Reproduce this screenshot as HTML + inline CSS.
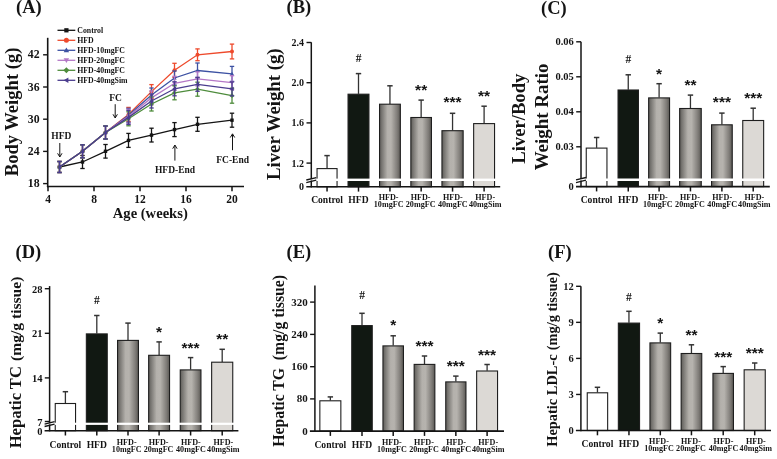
<!DOCTYPE html>
<html><head><meta charset="utf-8"><style>
html,body{margin:0;padding:0;background:#fff;}
svg{display:block;filter:blur(0.35px);}
</style></head><body>
<svg width="777" height="459" viewBox="0 0 777 459">
<defs>
<linearGradient id="g1" x1="0" y1="0" x2="1" y2="0">
<stop offset="0" stop-color="#5f5d59"/>
<stop offset="0.12" stop-color="#7a7874"/>
<stop offset="0.38" stop-color="#b4b1ac"/>
<stop offset="0.55" stop-color="#b6b3ae"/>
<stop offset="0.85" stop-color="#7f7c78"/>
<stop offset="1" stop-color="#5a5854"/>
</linearGradient>
</defs>
<rect width="777" height="459" fill="#ffffff"/>
<text x="16.00" y="12.60" font-family="'Liberation Serif', serif" font-size="18.5" font-weight="bold" text-anchor="start" fill="#141414" >(A)</text>
<text x="286.50" y="13.10" font-family="'Liberation Serif', serif" font-size="18.5" font-weight="bold" text-anchor="start" fill="#141414" >(B)</text>
<text x="541.00" y="13.90" font-family="'Liberation Serif', serif" font-size="18.5" font-weight="bold" text-anchor="start" fill="#141414" >(C)</text>
<text x="15.50" y="258.30" font-family="'Liberation Serif', serif" font-size="18.5" font-weight="bold" text-anchor="start" fill="#141414" >(D)</text>
<text x="286.50" y="258.00" font-family="'Liberation Serif', serif" font-size="18.5" font-weight="bold" text-anchor="start" fill="#141414" >(E)</text>
<text x="548.00" y="258.00" font-family="'Liberation Serif', serif" font-size="18.5" font-weight="bold" text-anchor="start" fill="#141414" >(F)</text>
<line x1="47.70" y1="37.80" x2="47.70" y2="187.30" stroke="#141414" stroke-width="1.6" />
<line x1="46.90" y1="186.50" x2="244.00" y2="186.50" stroke="#141414" stroke-width="1.6" />
<line x1="43.10" y1="183.60" x2="47.70" y2="183.60" stroke="#141414" stroke-width="1.4" />
<text x="39.60" y="187.20" font-family="'Liberation Serif', serif" font-size="11.8" font-weight="bold" text-anchor="end" fill="#141414" >18</text>
<line x1="43.10" y1="151.40" x2="47.70" y2="151.40" stroke="#141414" stroke-width="1.4" />
<text x="39.60" y="155.00" font-family="'Liberation Serif', serif" font-size="11.8" font-weight="bold" text-anchor="end" fill="#141414" >24</text>
<line x1="43.10" y1="119.20" x2="47.70" y2="119.20" stroke="#141414" stroke-width="1.4" />
<text x="39.60" y="122.80" font-family="'Liberation Serif', serif" font-size="11.8" font-weight="bold" text-anchor="end" fill="#141414" >30</text>
<line x1="43.10" y1="87.00" x2="47.70" y2="87.00" stroke="#141414" stroke-width="1.4" />
<text x="39.60" y="90.60" font-family="'Liberation Serif', serif" font-size="11.8" font-weight="bold" text-anchor="end" fill="#141414" >36</text>
<line x1="43.10" y1="54.80" x2="47.70" y2="54.80" stroke="#141414" stroke-width="1.4" />
<text x="39.60" y="58.40" font-family="'Liberation Serif', serif" font-size="11.8" font-weight="bold" text-anchor="end" fill="#141414" >42</text>
<line x1="48.00" y1="186.50" x2="48.00" y2="191.30" stroke="#141414" stroke-width="1.5" />
<text x="48.00" y="203.40" font-family="'Liberation Serif', serif" font-size="11.5" font-weight="bold" text-anchor="middle" fill="#141414" >4</text>
<line x1="94.00" y1="186.50" x2="94.00" y2="191.30" stroke="#141414" stroke-width="1.5" />
<text x="94.00" y="203.40" font-family="'Liberation Serif', serif" font-size="11.5" font-weight="bold" text-anchor="middle" fill="#141414" >8</text>
<line x1="140.00" y1="186.50" x2="140.00" y2="191.30" stroke="#141414" stroke-width="1.5" />
<text x="140.00" y="203.40" font-family="'Liberation Serif', serif" font-size="11.5" font-weight="bold" text-anchor="middle" fill="#141414" >12</text>
<line x1="186.00" y1="186.50" x2="186.00" y2="191.30" stroke="#141414" stroke-width="1.5" />
<text x="186.00" y="203.40" font-family="'Liberation Serif', serif" font-size="11.5" font-weight="bold" text-anchor="middle" fill="#141414" >16</text>
<line x1="232.00" y1="186.50" x2="232.00" y2="191.30" stroke="#141414" stroke-width="1.5" />
<text x="232.00" y="203.40" font-family="'Liberation Serif', serif" font-size="11.5" font-weight="bold" text-anchor="middle" fill="#141414" >20</text>
<text x="150.30" y="217.60" font-family="'Liberation Serif', serif" font-size="14.6" font-weight="bold" text-anchor="middle" fill="#141414" >Age (weeks)</text>
<text transform="translate(17.80,111.95) rotate(-90)" x="0" y="0" font-family="'Liberation Serif', serif" font-size="18" font-weight="bold" text-anchor="middle" fill="#141414" textLength="128.6" lengthAdjust="spacingAndGlyphs">Body Weight (g)</text>
<polyline points="59.50,167.00 82.50,162.00 105.50,151.30 128.50,140.40 151.50,135.10 174.50,129.60 197.50,124.30 232.00,120.20" fill="none" stroke="#141414" stroke-width="1.3"/>
<line x1="59.50" y1="161.50" x2="59.50" y2="172.50" stroke="#141414" stroke-width="1.3" />
<line x1="57.30" y1="161.50" x2="61.70" y2="161.50" stroke="#141414" stroke-width="1.3" />
<line x1="57.30" y1="172.50" x2="61.70" y2="172.50" stroke="#141414" stroke-width="1.3" />
<rect x="57.80" y="165.30" width="3.40" height="3.40" fill="#141414"/>
<line x1="82.50" y1="155.50" x2="82.50" y2="168.50" stroke="#141414" stroke-width="1.3" />
<line x1="80.30" y1="155.50" x2="84.70" y2="155.50" stroke="#141414" stroke-width="1.3" />
<line x1="80.30" y1="168.50" x2="84.70" y2="168.50" stroke="#141414" stroke-width="1.3" />
<rect x="80.80" y="160.30" width="3.40" height="3.40" fill="#141414"/>
<line x1="105.50" y1="144.50" x2="105.50" y2="158.10" stroke="#141414" stroke-width="1.3" />
<line x1="103.30" y1="144.50" x2="107.70" y2="144.50" stroke="#141414" stroke-width="1.3" />
<line x1="103.30" y1="158.10" x2="107.70" y2="158.10" stroke="#141414" stroke-width="1.3" />
<rect x="103.80" y="149.60" width="3.40" height="3.40" fill="#141414"/>
<line x1="128.50" y1="133.40" x2="128.50" y2="147.40" stroke="#141414" stroke-width="1.3" />
<line x1="126.30" y1="133.40" x2="130.70" y2="133.40" stroke="#141414" stroke-width="1.3" />
<line x1="126.30" y1="147.40" x2="130.70" y2="147.40" stroke="#141414" stroke-width="1.3" />
<rect x="126.80" y="138.70" width="3.40" height="3.40" fill="#141414"/>
<line x1="151.50" y1="128.20" x2="151.50" y2="142.00" stroke="#141414" stroke-width="1.3" />
<line x1="149.30" y1="128.20" x2="153.70" y2="128.20" stroke="#141414" stroke-width="1.3" />
<line x1="149.30" y1="142.00" x2="153.70" y2="142.00" stroke="#141414" stroke-width="1.3" />
<rect x="149.80" y="133.40" width="3.40" height="3.40" fill="#141414"/>
<line x1="174.50" y1="122.60" x2="174.50" y2="136.60" stroke="#141414" stroke-width="1.3" />
<line x1="172.30" y1="122.60" x2="176.70" y2="122.60" stroke="#141414" stroke-width="1.3" />
<line x1="172.30" y1="136.60" x2="176.70" y2="136.60" stroke="#141414" stroke-width="1.3" />
<rect x="172.80" y="127.90" width="3.40" height="3.40" fill="#141414"/>
<line x1="197.50" y1="117.30" x2="197.50" y2="131.30" stroke="#141414" stroke-width="1.3" />
<line x1="195.30" y1="117.30" x2="199.70" y2="117.30" stroke="#141414" stroke-width="1.3" />
<line x1="195.30" y1="131.30" x2="199.70" y2="131.30" stroke="#141414" stroke-width="1.3" />
<rect x="195.80" y="122.60" width="3.40" height="3.40" fill="#141414"/>
<line x1="232.00" y1="113.20" x2="232.00" y2="127.20" stroke="#141414" stroke-width="1.3" />
<line x1="229.80" y1="113.20" x2="234.20" y2="113.20" stroke="#141414" stroke-width="1.3" />
<line x1="229.80" y1="127.20" x2="234.20" y2="127.20" stroke="#141414" stroke-width="1.3" />
<rect x="230.30" y="118.50" width="3.40" height="3.40" fill="#141414"/>
<polyline points="59.50,167.00 82.50,151.30 105.50,132.50 128.50,114.40 151.50,91.60 174.50,70.30 197.50,54.80 232.00,51.50" fill="none" stroke="#ee4a2c" stroke-width="1.3"/>
<line x1="59.50" y1="161.50" x2="59.50" y2="172.50" stroke="#ee4a2c" stroke-width="1.3" />
<line x1="57.30" y1="161.50" x2="61.70" y2="161.50" stroke="#ee4a2c" stroke-width="1.3" />
<line x1="57.30" y1="172.50" x2="61.70" y2="172.50" stroke="#ee4a2c" stroke-width="1.3" />
<circle cx="59.50" cy="167.00" r="2.00" fill="#ee4a2c"/>
<line x1="82.50" y1="144.80" x2="82.50" y2="157.80" stroke="#ee4a2c" stroke-width="1.3" />
<line x1="80.30" y1="144.80" x2="84.70" y2="144.80" stroke="#ee4a2c" stroke-width="1.3" />
<line x1="80.30" y1="157.80" x2="84.70" y2="157.80" stroke="#ee4a2c" stroke-width="1.3" />
<circle cx="82.50" cy="151.30" r="2.00" fill="#ee4a2c"/>
<line x1="105.50" y1="126.00" x2="105.50" y2="139.00" stroke="#ee4a2c" stroke-width="1.3" />
<line x1="103.30" y1="126.00" x2="107.70" y2="126.00" stroke="#ee4a2c" stroke-width="1.3" />
<line x1="103.30" y1="139.00" x2="107.70" y2="139.00" stroke="#ee4a2c" stroke-width="1.3" />
<circle cx="105.50" cy="132.50" r="2.00" fill="#ee4a2c"/>
<line x1="128.50" y1="107.40" x2="128.50" y2="121.40" stroke="#ee4a2c" stroke-width="1.3" />
<line x1="126.30" y1="107.40" x2="130.70" y2="107.40" stroke="#ee4a2c" stroke-width="1.3" />
<line x1="126.30" y1="121.40" x2="130.70" y2="121.40" stroke="#ee4a2c" stroke-width="1.3" />
<circle cx="128.50" cy="114.40" r="2.00" fill="#ee4a2c"/>
<line x1="151.50" y1="84.60" x2="151.50" y2="98.60" stroke="#ee4a2c" stroke-width="1.3" />
<line x1="149.30" y1="84.60" x2="153.70" y2="84.60" stroke="#ee4a2c" stroke-width="1.3" />
<line x1="149.30" y1="98.60" x2="153.70" y2="98.60" stroke="#ee4a2c" stroke-width="1.3" />
<circle cx="151.50" cy="91.60" r="2.00" fill="#ee4a2c"/>
<line x1="174.50" y1="63.30" x2="174.50" y2="77.30" stroke="#ee4a2c" stroke-width="1.3" />
<line x1="172.30" y1="63.30" x2="176.70" y2="63.30" stroke="#ee4a2c" stroke-width="1.3" />
<line x1="172.30" y1="77.30" x2="176.70" y2="77.30" stroke="#ee4a2c" stroke-width="1.3" />
<circle cx="174.50" cy="70.30" r="2.00" fill="#ee4a2c"/>
<line x1="197.50" y1="48.90" x2="197.50" y2="60.70" stroke="#ee4a2c" stroke-width="1.3" />
<line x1="195.30" y1="48.90" x2="199.70" y2="48.90" stroke="#ee4a2c" stroke-width="1.3" />
<line x1="195.30" y1="60.70" x2="199.70" y2="60.70" stroke="#ee4a2c" stroke-width="1.3" />
<circle cx="197.50" cy="54.80" r="2.00" fill="#ee4a2c"/>
<line x1="232.00" y1="44.10" x2="232.00" y2="58.90" stroke="#ee4a2c" stroke-width="1.3" />
<line x1="229.80" y1="44.10" x2="234.20" y2="44.10" stroke="#ee4a2c" stroke-width="1.3" />
<line x1="229.80" y1="58.90" x2="234.20" y2="58.90" stroke="#ee4a2c" stroke-width="1.3" />
<circle cx="232.00" cy="51.50" r="2.00" fill="#ee4a2c"/>
<polyline points="59.50,167.00 82.50,151.30 105.50,132.50 128.50,115.30 151.50,95.00 174.50,78.00 197.50,70.50 232.00,73.90" fill="none" stroke="#3d52a3" stroke-width="1.3"/>
<line x1="59.50" y1="161.50" x2="59.50" y2="172.50" stroke="#3d52a3" stroke-width="1.3" />
<line x1="57.30" y1="161.50" x2="61.70" y2="161.50" stroke="#3d52a3" stroke-width="1.3" />
<line x1="57.30" y1="172.50" x2="61.70" y2="172.50" stroke="#3d52a3" stroke-width="1.3" />
<polygon points="59.50,164.80 61.70,168.60 57.30,168.60" fill="#3d52a3"/>
<line x1="82.50" y1="144.80" x2="82.50" y2="157.80" stroke="#3d52a3" stroke-width="1.3" />
<line x1="80.30" y1="144.80" x2="84.70" y2="144.80" stroke="#3d52a3" stroke-width="1.3" />
<line x1="80.30" y1="157.80" x2="84.70" y2="157.80" stroke="#3d52a3" stroke-width="1.3" />
<polygon points="82.50,149.10 84.70,152.90 80.30,152.90" fill="#3d52a3"/>
<line x1="105.50" y1="126.00" x2="105.50" y2="139.00" stroke="#3d52a3" stroke-width="1.3" />
<line x1="103.30" y1="126.00" x2="107.70" y2="126.00" stroke="#3d52a3" stroke-width="1.3" />
<line x1="103.30" y1="139.00" x2="107.70" y2="139.00" stroke="#3d52a3" stroke-width="1.3" />
<polygon points="105.50,130.30 107.70,134.10 103.30,134.10" fill="#3d52a3"/>
<line x1="128.50" y1="108.30" x2="128.50" y2="122.30" stroke="#3d52a3" stroke-width="1.3" />
<line x1="126.30" y1="108.30" x2="130.70" y2="108.30" stroke="#3d52a3" stroke-width="1.3" />
<line x1="126.30" y1="122.30" x2="130.70" y2="122.30" stroke="#3d52a3" stroke-width="1.3" />
<polygon points="128.50,113.10 130.70,116.90 126.30,116.90" fill="#3d52a3"/>
<line x1="151.50" y1="88.00" x2="151.50" y2="102.00" stroke="#3d52a3" stroke-width="1.3" />
<line x1="149.30" y1="88.00" x2="153.70" y2="88.00" stroke="#3d52a3" stroke-width="1.3" />
<line x1="149.30" y1="102.00" x2="153.70" y2="102.00" stroke="#3d52a3" stroke-width="1.3" />
<polygon points="151.50,92.80 153.70,96.60 149.30,96.60" fill="#3d52a3"/>
<line x1="174.50" y1="71.00" x2="174.50" y2="85.00" stroke="#3d52a3" stroke-width="1.3" />
<line x1="172.30" y1="71.00" x2="176.70" y2="71.00" stroke="#3d52a3" stroke-width="1.3" />
<line x1="172.30" y1="85.00" x2="176.70" y2="85.00" stroke="#3d52a3" stroke-width="1.3" />
<polygon points="174.50,75.80 176.70,79.60 172.30,79.60" fill="#3d52a3"/>
<line x1="197.50" y1="63.00" x2="197.50" y2="78.00" stroke="#3d52a3" stroke-width="1.3" />
<line x1="195.30" y1="63.00" x2="199.70" y2="63.00" stroke="#3d52a3" stroke-width="1.3" />
<line x1="195.30" y1="78.00" x2="199.70" y2="78.00" stroke="#3d52a3" stroke-width="1.3" />
<polygon points="197.50,68.30 199.70,72.10 195.30,72.10" fill="#3d52a3"/>
<line x1="232.00" y1="66.40" x2="232.00" y2="81.40" stroke="#3d52a3" stroke-width="1.3" />
<line x1="229.80" y1="66.40" x2="234.20" y2="66.40" stroke="#3d52a3" stroke-width="1.3" />
<line x1="229.80" y1="81.40" x2="234.20" y2="81.40" stroke="#3d52a3" stroke-width="1.3" />
<polygon points="232.00,71.70 234.20,75.50 229.80,75.50" fill="#3d52a3"/>
<polyline points="59.50,167.00 82.50,151.30 105.50,132.50 128.50,116.20 151.50,97.90 174.50,83.30 197.50,78.90 232.00,82.70" fill="none" stroke="#b478c6" stroke-width="1.3"/>
<line x1="59.50" y1="161.50" x2="59.50" y2="172.50" stroke="#b478c6" stroke-width="1.3" />
<line x1="57.30" y1="161.50" x2="61.70" y2="161.50" stroke="#b478c6" stroke-width="1.3" />
<line x1="57.30" y1="172.50" x2="61.70" y2="172.50" stroke="#b478c6" stroke-width="1.3" />
<polygon points="59.50,169.20 61.70,165.40 57.30,165.40" fill="#b478c6"/>
<line x1="82.50" y1="144.80" x2="82.50" y2="157.80" stroke="#b478c6" stroke-width="1.3" />
<line x1="80.30" y1="144.80" x2="84.70" y2="144.80" stroke="#b478c6" stroke-width="1.3" />
<line x1="80.30" y1="157.80" x2="84.70" y2="157.80" stroke="#b478c6" stroke-width="1.3" />
<polygon points="82.50,153.50 84.70,149.70 80.30,149.70" fill="#b478c6"/>
<line x1="105.50" y1="126.00" x2="105.50" y2="139.00" stroke="#b478c6" stroke-width="1.3" />
<line x1="103.30" y1="126.00" x2="107.70" y2="126.00" stroke="#b478c6" stroke-width="1.3" />
<line x1="103.30" y1="139.00" x2="107.70" y2="139.00" stroke="#b478c6" stroke-width="1.3" />
<polygon points="105.50,134.70 107.70,130.90 103.30,130.90" fill="#b478c6"/>
<line x1="128.50" y1="109.20" x2="128.50" y2="123.20" stroke="#b478c6" stroke-width="1.3" />
<line x1="126.30" y1="109.20" x2="130.70" y2="109.20" stroke="#b478c6" stroke-width="1.3" />
<line x1="126.30" y1="123.20" x2="130.70" y2="123.20" stroke="#b478c6" stroke-width="1.3" />
<polygon points="128.50,118.40 130.70,114.60 126.30,114.60" fill="#b478c6"/>
<line x1="151.50" y1="90.90" x2="151.50" y2="104.90" stroke="#b478c6" stroke-width="1.3" />
<line x1="149.30" y1="90.90" x2="153.70" y2="90.90" stroke="#b478c6" stroke-width="1.3" />
<line x1="149.30" y1="104.90" x2="153.70" y2="104.90" stroke="#b478c6" stroke-width="1.3" />
<polygon points="151.50,100.10 153.70,96.30 149.30,96.30" fill="#b478c6"/>
<line x1="174.50" y1="76.30" x2="174.50" y2="90.30" stroke="#b478c6" stroke-width="1.3" />
<line x1="172.30" y1="76.30" x2="176.70" y2="76.30" stroke="#b478c6" stroke-width="1.3" />
<line x1="172.30" y1="90.30" x2="176.70" y2="90.30" stroke="#b478c6" stroke-width="1.3" />
<polygon points="174.50,85.50 176.70,81.70 172.30,81.70" fill="#b478c6"/>
<line x1="197.50" y1="71.90" x2="197.50" y2="85.90" stroke="#b478c6" stroke-width="1.3" />
<line x1="195.30" y1="71.90" x2="199.70" y2="71.90" stroke="#b478c6" stroke-width="1.3" />
<line x1="195.30" y1="85.90" x2="199.70" y2="85.90" stroke="#b478c6" stroke-width="1.3" />
<polygon points="197.50,81.10 199.70,77.30 195.30,77.30" fill="#b478c6"/>
<line x1="232.00" y1="75.70" x2="232.00" y2="89.70" stroke="#b478c6" stroke-width="1.3" />
<line x1="229.80" y1="75.70" x2="234.20" y2="75.70" stroke="#b478c6" stroke-width="1.3" />
<line x1="229.80" y1="89.70" x2="234.20" y2="89.70" stroke="#b478c6" stroke-width="1.3" />
<polygon points="232.00,84.90 234.20,81.10 229.80,81.10" fill="#b478c6"/>
<polyline points="59.50,167.00 82.50,151.30 105.50,132.50 128.50,118.80 151.50,104.00 174.50,92.80 197.50,89.20 232.00,95.70" fill="none" stroke="#4e8c3c" stroke-width="1.3"/>
<line x1="59.50" y1="161.50" x2="59.50" y2="172.50" stroke="#4e8c3c" stroke-width="1.3" />
<line x1="57.30" y1="161.50" x2="61.70" y2="161.50" stroke="#4e8c3c" stroke-width="1.3" />
<line x1="57.30" y1="172.50" x2="61.70" y2="172.50" stroke="#4e8c3c" stroke-width="1.3" />
<polygon points="59.50,164.60 61.90,167.00 59.50,169.40 57.10,167.00" fill="#4e8c3c"/>
<line x1="82.50" y1="144.80" x2="82.50" y2="157.80" stroke="#4e8c3c" stroke-width="1.3" />
<line x1="80.30" y1="144.80" x2="84.70" y2="144.80" stroke="#4e8c3c" stroke-width="1.3" />
<line x1="80.30" y1="157.80" x2="84.70" y2="157.80" stroke="#4e8c3c" stroke-width="1.3" />
<polygon points="82.50,148.90 84.90,151.30 82.50,153.70 80.10,151.30" fill="#4e8c3c"/>
<line x1="105.50" y1="126.00" x2="105.50" y2="139.00" stroke="#4e8c3c" stroke-width="1.3" />
<line x1="103.30" y1="126.00" x2="107.70" y2="126.00" stroke="#4e8c3c" stroke-width="1.3" />
<line x1="103.30" y1="139.00" x2="107.70" y2="139.00" stroke="#4e8c3c" stroke-width="1.3" />
<polygon points="105.50,130.10 107.90,132.50 105.50,134.90 103.10,132.50" fill="#4e8c3c"/>
<line x1="128.50" y1="111.80" x2="128.50" y2="125.80" stroke="#4e8c3c" stroke-width="1.3" />
<line x1="126.30" y1="111.80" x2="130.70" y2="111.80" stroke="#4e8c3c" stroke-width="1.3" />
<line x1="126.30" y1="125.80" x2="130.70" y2="125.80" stroke="#4e8c3c" stroke-width="1.3" />
<polygon points="128.50,116.40 130.90,118.80 128.50,121.20 126.10,118.80" fill="#4e8c3c"/>
<line x1="151.50" y1="97.00" x2="151.50" y2="111.00" stroke="#4e8c3c" stroke-width="1.3" />
<line x1="149.30" y1="97.00" x2="153.70" y2="97.00" stroke="#4e8c3c" stroke-width="1.3" />
<line x1="149.30" y1="111.00" x2="153.70" y2="111.00" stroke="#4e8c3c" stroke-width="1.3" />
<polygon points="151.50,101.60 153.90,104.00 151.50,106.40 149.10,104.00" fill="#4e8c3c"/>
<line x1="174.50" y1="85.80" x2="174.50" y2="99.80" stroke="#4e8c3c" stroke-width="1.3" />
<line x1="172.30" y1="85.80" x2="176.70" y2="85.80" stroke="#4e8c3c" stroke-width="1.3" />
<line x1="172.30" y1="99.80" x2="176.70" y2="99.80" stroke="#4e8c3c" stroke-width="1.3" />
<polygon points="174.50,90.40 176.90,92.80 174.50,95.20 172.10,92.80" fill="#4e8c3c"/>
<line x1="197.50" y1="82.20" x2="197.50" y2="96.20" stroke="#4e8c3c" stroke-width="1.3" />
<line x1="195.30" y1="82.20" x2="199.70" y2="82.20" stroke="#4e8c3c" stroke-width="1.3" />
<line x1="195.30" y1="96.20" x2="199.70" y2="96.20" stroke="#4e8c3c" stroke-width="1.3" />
<polygon points="197.50,86.80 199.90,89.20 197.50,91.60 195.10,89.20" fill="#4e8c3c"/>
<line x1="232.00" y1="88.20" x2="232.00" y2="103.20" stroke="#4e8c3c" stroke-width="1.3" />
<line x1="229.80" y1="88.20" x2="234.20" y2="88.20" stroke="#4e8c3c" stroke-width="1.3" />
<line x1="229.80" y1="103.20" x2="234.20" y2="103.20" stroke="#4e8c3c" stroke-width="1.3" />
<polygon points="232.00,93.30 234.40,95.70 232.00,98.10 229.60,95.70" fill="#4e8c3c"/>
<polyline points="59.50,167.00 82.50,151.30 105.50,132.50 128.50,117.40 151.50,101.00 174.50,88.80 197.50,84.30 232.00,88.90" fill="none" stroke="#4a3c8e" stroke-width="1.3"/>
<line x1="59.50" y1="161.50" x2="59.50" y2="172.50" stroke="#4a3c8e" stroke-width="1.3" />
<line x1="57.30" y1="161.50" x2="61.70" y2="161.50" stroke="#4a3c8e" stroke-width="1.3" />
<line x1="57.30" y1="172.50" x2="61.70" y2="172.50" stroke="#4a3c8e" stroke-width="1.3" />
<polygon points="57.30,167.00 61.10,164.80 61.10,169.20" fill="#4a3c8e"/>
<line x1="82.50" y1="144.80" x2="82.50" y2="157.80" stroke="#4a3c8e" stroke-width="1.3" />
<line x1="80.30" y1="144.80" x2="84.70" y2="144.80" stroke="#4a3c8e" stroke-width="1.3" />
<line x1="80.30" y1="157.80" x2="84.70" y2="157.80" stroke="#4a3c8e" stroke-width="1.3" />
<polygon points="80.30,151.30 84.10,149.10 84.10,153.50" fill="#4a3c8e"/>
<line x1="105.50" y1="126.00" x2="105.50" y2="139.00" stroke="#4a3c8e" stroke-width="1.3" />
<line x1="103.30" y1="126.00" x2="107.70" y2="126.00" stroke="#4a3c8e" stroke-width="1.3" />
<line x1="103.30" y1="139.00" x2="107.70" y2="139.00" stroke="#4a3c8e" stroke-width="1.3" />
<polygon points="103.30,132.50 107.10,130.30 107.10,134.70" fill="#4a3c8e"/>
<line x1="128.50" y1="110.40" x2="128.50" y2="124.40" stroke="#4a3c8e" stroke-width="1.3" />
<line x1="126.30" y1="110.40" x2="130.70" y2="110.40" stroke="#4a3c8e" stroke-width="1.3" />
<line x1="126.30" y1="124.40" x2="130.70" y2="124.40" stroke="#4a3c8e" stroke-width="1.3" />
<polygon points="126.30,117.40 130.10,115.20 130.10,119.60" fill="#4a3c8e"/>
<line x1="151.50" y1="94.00" x2="151.50" y2="108.00" stroke="#4a3c8e" stroke-width="1.3" />
<line x1="149.30" y1="94.00" x2="153.70" y2="94.00" stroke="#4a3c8e" stroke-width="1.3" />
<line x1="149.30" y1="108.00" x2="153.70" y2="108.00" stroke="#4a3c8e" stroke-width="1.3" />
<polygon points="149.30,101.00 153.10,98.80 153.10,103.20" fill="#4a3c8e"/>
<line x1="174.50" y1="81.80" x2="174.50" y2="95.80" stroke="#4a3c8e" stroke-width="1.3" />
<line x1="172.30" y1="81.80" x2="176.70" y2="81.80" stroke="#4a3c8e" stroke-width="1.3" />
<line x1="172.30" y1="95.80" x2="176.70" y2="95.80" stroke="#4a3c8e" stroke-width="1.3" />
<polygon points="172.30,88.80 176.10,86.60 176.10,91.00" fill="#4a3c8e"/>
<line x1="197.50" y1="77.30" x2="197.50" y2="91.30" stroke="#4a3c8e" stroke-width="1.3" />
<line x1="195.30" y1="77.30" x2="199.70" y2="77.30" stroke="#4a3c8e" stroke-width="1.3" />
<line x1="195.30" y1="91.30" x2="199.70" y2="91.30" stroke="#4a3c8e" stroke-width="1.3" />
<polygon points="195.30,84.30 199.10,82.10 199.10,86.50" fill="#4a3c8e"/>
<line x1="232.00" y1="81.90" x2="232.00" y2="95.90" stroke="#4a3c8e" stroke-width="1.3" />
<line x1="229.80" y1="81.90" x2="234.20" y2="81.90" stroke="#4a3c8e" stroke-width="1.3" />
<line x1="229.80" y1="95.90" x2="234.20" y2="95.90" stroke="#4a3c8e" stroke-width="1.3" />
<polygon points="229.80,88.90 233.60,86.70 233.60,91.10" fill="#4a3c8e"/>
<line x1="57.50" y1="30.30" x2="75.30" y2="30.30" stroke="#141414" stroke-width="1.3" />
<rect x="64.28" y="28.18" width="4.25" height="4.25" fill="#141414"/>
<text x="77.30" y="33.00" font-family="'Liberation Serif', serif" font-size="7.8" font-weight="bold" text-anchor="start" fill="#141414" >Control</text>
<line x1="57.50" y1="40.30" x2="75.30" y2="40.30" stroke="#ee4a2c" stroke-width="1.3" />
<circle cx="66.40" cy="40.30" r="2.50" fill="#ee4a2c"/>
<text x="77.30" y="43.00" font-family="'Liberation Serif', serif" font-size="7.8" font-weight="bold" text-anchor="start" fill="#141414" >HFD</text>
<line x1="57.50" y1="50.30" x2="75.30" y2="50.30" stroke="#3d52a3" stroke-width="1.3" />
<polygon points="66.40,47.55 69.15,52.30 63.65,52.30" fill="#3d52a3"/>
<text x="77.30" y="53.00" font-family="'Liberation Serif', serif" font-size="7.8" font-weight="bold" text-anchor="start" fill="#141414" >HFD-10mgFC</text>
<line x1="57.50" y1="60.30" x2="75.30" y2="60.30" stroke="#b478c6" stroke-width="1.3" />
<polygon points="66.40,63.05 69.15,58.30 63.65,58.30" fill="#b478c6"/>
<text x="77.30" y="63.00" font-family="'Liberation Serif', serif" font-size="7.8" font-weight="bold" text-anchor="start" fill="#141414" >HFD-20mgFC</text>
<line x1="57.50" y1="70.30" x2="75.30" y2="70.30" stroke="#4e8c3c" stroke-width="1.3" />
<polygon points="66.40,67.30 69.40,70.30 66.40,73.30 63.40,70.30" fill="#4e8c3c"/>
<text x="77.30" y="73.00" font-family="'Liberation Serif', serif" font-size="7.8" font-weight="bold" text-anchor="start" fill="#141414" >HFD-40mgFC</text>
<line x1="57.50" y1="80.30" x2="75.30" y2="80.30" stroke="#4a3c8e" stroke-width="1.3" />
<polygon points="63.65,80.30 68.40,77.55 68.40,83.05" fill="#4a3c8e"/>
<text x="77.30" y="83.00" font-family="'Liberation Serif', serif" font-size="7.8" font-weight="bold" text-anchor="start" fill="#141414" >HFD-40mgSim</text>
<text x="61.30" y="139.20" font-family="'Liberation Serif', serif" font-size="9.5" font-weight="bold" text-anchor="middle" fill="#141414" >HFD</text>
<line x1="59.80" y1="143.00" x2="59.80" y2="156.50" stroke="#141414" stroke-width="1.0" />
<path d="M57.6,153.3 L59.8,157 L62,153.3" fill="none" stroke="#141414" stroke-width="1"/>
<text x="115.50" y="100.70" font-family="'Liberation Serif', serif" font-size="9.5" font-weight="bold" text-anchor="middle" fill="#141414" >FC</text>
<line x1="115.20" y1="104.20" x2="115.20" y2="117.50" stroke="#141414" stroke-width="1.0" />
<path d="M113,114.3 L115.2,118 L117.4,114.3" fill="none" stroke="#141414" stroke-width="1"/>
<text x="175.00" y="172.60" font-family="'Liberation Serif', serif" font-size="9.5" font-weight="bold" text-anchor="middle" fill="#141414" >HFD-End</text>
<line x1="174.90" y1="145.50" x2="174.90" y2="160.60" stroke="#141414" stroke-width="1.0" />
<path d="M172.7,148.7 L174.9,145 L177.1,148.7" fill="none" stroke="#141414" stroke-width="1"/>
<text x="232.60" y="162.90" font-family="'Liberation Serif', serif" font-size="9.5" font-weight="bold" text-anchor="middle" fill="#141414" >FC-End</text>
<line x1="232.50" y1="134.30" x2="232.50" y2="150.20" stroke="#141414" stroke-width="1.0" />
<path d="M230.3,137.5 L232.5,133.8 L234.7,137.5" fill="none" stroke="#141414" stroke-width="1"/>
<line x1="327.05" y1="155.60" x2="327.05" y2="168.30" stroke="#333" stroke-width="1.3" />
<line x1="324.35" y1="155.60" x2="329.75" y2="155.60" stroke="#333" stroke-width="1.5" />
<rect x="317.05" y="168.60" width="20.00" height="18.20" fill="#ffffff" stroke="#1e1e1e" stroke-width="1.1"/>
<line x1="358.50" y1="73.60" x2="358.50" y2="93.90" stroke="#333" stroke-width="1.3" />
<line x1="355.80" y1="73.60" x2="361.20" y2="73.60" stroke="#333" stroke-width="1.5" />
<rect x="348.05" y="94.20" width="20.90" height="92.60" fill="#111812" stroke="#1e1e1e" stroke-width="1.1"/>
<line x1="389.95" y1="85.80" x2="389.95" y2="103.90" stroke="#333" stroke-width="1.3" />
<line x1="387.25" y1="85.80" x2="392.65" y2="85.80" stroke="#333" stroke-width="1.5" />
<rect x="379.55" y="104.20" width="20.80" height="82.60" fill="url(#g1)" stroke="#1e1e1e" stroke-width="1.1"/>
<line x1="421.15" y1="100.10" x2="421.15" y2="117.20" stroke="#333" stroke-width="1.3" />
<line x1="418.45" y1="100.10" x2="423.85" y2="100.10" stroke="#333" stroke-width="1.5" />
<rect x="410.85" y="117.50" width="20.60" height="69.30" fill="url(#g1)" stroke="#1e1e1e" stroke-width="1.1"/>
<line x1="452.55" y1="113.30" x2="452.55" y2="130.40" stroke="#333" stroke-width="1.3" />
<line x1="449.85" y1="113.30" x2="455.25" y2="113.30" stroke="#333" stroke-width="1.5" />
<rect x="441.95" y="130.70" width="21.20" height="56.10" fill="url(#g1)" stroke="#1e1e1e" stroke-width="1.1"/>
<line x1="484.10" y1="106.20" x2="484.10" y2="123.30" stroke="#333" stroke-width="1.3" />
<line x1="481.40" y1="106.20" x2="486.80" y2="106.20" stroke="#333" stroke-width="1.5" />
<rect x="473.65" y="123.60" width="20.90" height="63.20" fill="#dcd9d5" stroke="#1e1e1e" stroke-width="1.1"/>
<rect x="312.30" y="178.60" width="188.90" height="2.40" fill="#ffffff"/>
<line x1="311.30" y1="42.30" x2="311.30" y2="179.10" stroke="#141414" stroke-width="1.5" />
<line x1="311.30" y1="180.50" x2="311.30" y2="187.50" stroke="#141414" stroke-width="1.5" />
<line x1="306.30" y1="180.00" x2="316.30" y2="177.60" stroke="#141414" stroke-width="1.3"/>
<line x1="306.30" y1="182.60" x2="316.30" y2="180.20" stroke="#141414" stroke-width="1.3"/>
<line x1="306.30" y1="186.80" x2="500.20" y2="186.80" stroke="#141414" stroke-width="1.6" />
<line x1="306.50" y1="42.50" x2="311.30" y2="42.50" stroke="#141414" stroke-width="1.4" />
<text x="304.10" y="45.90" font-family="'Liberation Serif', serif" font-size="10" font-weight="bold" text-anchor="end" fill="#141414" >2.4</text>
<line x1="306.50" y1="82.70" x2="311.30" y2="82.70" stroke="#141414" stroke-width="1.4" />
<text x="304.10" y="86.10" font-family="'Liberation Serif', serif" font-size="10" font-weight="bold" text-anchor="end" fill="#141414" >2.0</text>
<line x1="306.50" y1="122.90" x2="311.30" y2="122.90" stroke="#141414" stroke-width="1.4" />
<text x="304.10" y="126.30" font-family="'Liberation Serif', serif" font-size="10" font-weight="bold" text-anchor="end" fill="#141414" >1.6</text>
<line x1="306.50" y1="163.10" x2="311.30" y2="163.10" stroke="#141414" stroke-width="1.4" />
<text x="304.10" y="166.50" font-family="'Liberation Serif', serif" font-size="10" font-weight="bold" text-anchor="end" fill="#141414" >1.2</text>
<text x="304.10" y="190.20" font-family="'Liberation Serif', serif" font-size="10" font-weight="bold" text-anchor="end" fill="#141414" >0</text>
<line x1="327.05" y1="186.80" x2="327.05" y2="191.60" stroke="#141414" stroke-width="1.5" />
<text x="327.05" y="202.80" font-family="'Liberation Serif', serif" font-size="9.6" font-weight="bold" text-anchor="middle" fill="#141414" >Control</text>
<line x1="358.50" y1="186.80" x2="358.50" y2="191.60" stroke="#141414" stroke-width="1.5" />
<text x="358.50" y="202.80" font-family="'Liberation Serif', serif" font-size="9.6" font-weight="bold" text-anchor="middle" fill="#141414" >HFD</text>
<line x1="389.95" y1="186.80" x2="389.95" y2="191.60" stroke="#141414" stroke-width="1.5" />
<text x="388.65" y="199.80" font-family="'Liberation Serif', serif" font-size="8.1" font-weight="bold" text-anchor="middle" fill="#141414" >HFD-</text>
<text x="388.65" y="206.80" font-family="'Liberation Serif', serif" font-size="8.1" font-weight="bold" text-anchor="middle" fill="#141414" >10mgFC</text>
<line x1="421.15" y1="186.80" x2="421.15" y2="191.60" stroke="#141414" stroke-width="1.5" />
<text x="420.65" y="199.80" font-family="'Liberation Serif', serif" font-size="8.1" font-weight="bold" text-anchor="middle" fill="#141414" >HFD-</text>
<text x="420.65" y="206.80" font-family="'Liberation Serif', serif" font-size="8.1" font-weight="bold" text-anchor="middle" fill="#141414" >20mgFC</text>
<line x1="452.55" y1="186.80" x2="452.55" y2="191.60" stroke="#141414" stroke-width="1.5" />
<text x="452.85" y="199.80" font-family="'Liberation Serif', serif" font-size="8.1" font-weight="bold" text-anchor="middle" fill="#141414" >HFD-</text>
<text x="452.85" y="206.80" font-family="'Liberation Serif', serif" font-size="8.1" font-weight="bold" text-anchor="middle" fill="#141414" >40mgFC</text>
<line x1="484.10" y1="186.80" x2="484.10" y2="191.60" stroke="#141414" stroke-width="1.5" />
<text x="485.20" y="199.80" font-family="'Liberation Serif', serif" font-size="8.1" font-weight="bold" text-anchor="middle" fill="#141414" >HFD-</text>
<text x="485.20" y="206.80" font-family="'Liberation Serif', serif" font-size="8.1" font-weight="bold" text-anchor="middle" fill="#141414" >40mgSim</text>
<text x="358.50" y="61.70" font-family="'Liberation Serif', serif" font-size="11.5" font-weight="bold" text-anchor="middle" fill="#141414" >#</text>
<text x="421.15" y="94.70" font-family="'Liberation Sans', sans-serif" font-size="15.5" font-weight="bold" text-anchor="middle" fill="#141414" >**</text>
<text x="452.55" y="107.40" font-family="'Liberation Sans', sans-serif" font-size="15.5" font-weight="bold" text-anchor="middle" fill="#141414" >***</text>
<text x="484.10" y="100.80" font-family="'Liberation Sans', sans-serif" font-size="15.5" font-weight="bold" text-anchor="middle" fill="#141414" >**</text>
<line x1="596.60" y1="137.50" x2="596.60" y2="147.80" stroke="#333" stroke-width="1.3" />
<line x1="593.90" y1="137.50" x2="599.30" y2="137.50" stroke="#333" stroke-width="1.5" />
<rect x="586.25" y="148.10" width="20.70" height="38.50" fill="#ffffff" stroke="#1e1e1e" stroke-width="1.1"/>
<line x1="628.25" y1="74.80" x2="628.25" y2="89.70" stroke="#333" stroke-width="1.3" />
<line x1="625.55" y1="74.80" x2="630.95" y2="74.80" stroke="#333" stroke-width="1.5" />
<rect x="618.05" y="90.00" width="20.40" height="96.60" fill="#111812" stroke="#1e1e1e" stroke-width="1.1"/>
<line x1="659.10" y1="83.70" x2="659.10" y2="97.60" stroke="#333" stroke-width="1.3" />
<line x1="656.40" y1="83.70" x2="661.80" y2="83.70" stroke="#333" stroke-width="1.5" />
<rect x="648.65" y="97.90" width="20.90" height="88.70" fill="url(#g1)" stroke="#1e1e1e" stroke-width="1.1"/>
<line x1="690.45" y1="95.10" x2="690.45" y2="108.20" stroke="#333" stroke-width="1.3" />
<line x1="687.75" y1="95.10" x2="693.15" y2="95.10" stroke="#333" stroke-width="1.5" />
<rect x="679.65" y="108.50" width="21.60" height="78.10" fill="url(#g1)" stroke="#1e1e1e" stroke-width="1.1"/>
<line x1="721.90" y1="113.10" x2="721.90" y2="124.50" stroke="#333" stroke-width="1.3" />
<line x1="719.20" y1="113.10" x2="724.60" y2="113.10" stroke="#333" stroke-width="1.5" />
<rect x="711.55" y="124.80" width="20.70" height="61.80" fill="url(#g1)" stroke="#1e1e1e" stroke-width="1.1"/>
<line x1="753.20" y1="108.20" x2="753.20" y2="120.20" stroke="#333" stroke-width="1.3" />
<line x1="750.50" y1="108.20" x2="755.90" y2="108.20" stroke="#333" stroke-width="1.5" />
<rect x="742.75" y="120.50" width="20.90" height="66.10" fill="#dcd9d5" stroke="#1e1e1e" stroke-width="1.1"/>
<rect x="582.00" y="178.50" width="188.80" height="2.50" fill="#ffffff"/>
<line x1="581.00" y1="41.80" x2="581.00" y2="179.00" stroke="#141414" stroke-width="1.5" />
<line x1="581.00" y1="180.50" x2="581.00" y2="187.30" stroke="#141414" stroke-width="1.5" />
<line x1="576.00" y1="179.90" x2="586.00" y2="177.50" stroke="#141414" stroke-width="1.3"/>
<line x1="576.00" y1="182.60" x2="586.00" y2="180.20" stroke="#141414" stroke-width="1.3"/>
<line x1="576.00" y1="186.60" x2="769.80" y2="186.60" stroke="#141414" stroke-width="1.6" />
<line x1="576.20" y1="41.80" x2="581.00" y2="41.80" stroke="#141414" stroke-width="1.4" />
<text x="573.80" y="45.20" font-family="'Liberation Serif', serif" font-size="10.5" font-weight="bold" text-anchor="end" fill="#141414" >0.06</text>
<line x1="576.20" y1="76.80" x2="581.00" y2="76.80" stroke="#141414" stroke-width="1.4" />
<text x="573.80" y="80.20" font-family="'Liberation Serif', serif" font-size="10.5" font-weight="bold" text-anchor="end" fill="#141414" >0.05</text>
<line x1="576.20" y1="111.80" x2="581.00" y2="111.80" stroke="#141414" stroke-width="1.4" />
<text x="573.80" y="115.20" font-family="'Liberation Serif', serif" font-size="10.5" font-weight="bold" text-anchor="end" fill="#141414" >0.04</text>
<line x1="576.20" y1="146.80" x2="581.00" y2="146.80" stroke="#141414" stroke-width="1.4" />
<text x="573.80" y="150.20" font-family="'Liberation Serif', serif" font-size="10.5" font-weight="bold" text-anchor="end" fill="#141414" >0.03</text>
<text x="573.80" y="190.00" font-family="'Liberation Serif', serif" font-size="10.5" font-weight="bold" text-anchor="end" fill="#141414" >0</text>
<line x1="596.60" y1="186.60" x2="596.60" y2="191.40" stroke="#141414" stroke-width="1.5" />
<text x="596.60" y="203.20" font-family="'Liberation Serif', serif" font-size="9.6" font-weight="bold" text-anchor="middle" fill="#141414" >Control</text>
<line x1="628.25" y1="186.60" x2="628.25" y2="191.40" stroke="#141414" stroke-width="1.5" />
<text x="628.25" y="203.20" font-family="'Liberation Serif', serif" font-size="9.6" font-weight="bold" text-anchor="middle" fill="#141414" >HFD</text>
<line x1="659.10" y1="186.60" x2="659.10" y2="191.40" stroke="#141414" stroke-width="1.5" />
<text x="657.80" y="200.20" font-family="'Liberation Serif', serif" font-size="8.1" font-weight="bold" text-anchor="middle" fill="#141414" >HFD-</text>
<text x="657.80" y="207.20" font-family="'Liberation Serif', serif" font-size="8.1" font-weight="bold" text-anchor="middle" fill="#141414" >10mgFC</text>
<line x1="690.45" y1="186.60" x2="690.45" y2="191.40" stroke="#141414" stroke-width="1.5" />
<text x="689.95" y="200.20" font-family="'Liberation Serif', serif" font-size="8.1" font-weight="bold" text-anchor="middle" fill="#141414" >HFD-</text>
<text x="689.95" y="207.20" font-family="'Liberation Serif', serif" font-size="8.1" font-weight="bold" text-anchor="middle" fill="#141414" >20mgFC</text>
<line x1="721.90" y1="186.60" x2="721.90" y2="191.40" stroke="#141414" stroke-width="1.5" />
<text x="722.20" y="200.20" font-family="'Liberation Serif', serif" font-size="8.1" font-weight="bold" text-anchor="middle" fill="#141414" >HFD-</text>
<text x="722.20" y="207.20" font-family="'Liberation Serif', serif" font-size="8.1" font-weight="bold" text-anchor="middle" fill="#141414" >40mgFC</text>
<line x1="753.20" y1="186.60" x2="753.20" y2="191.40" stroke="#141414" stroke-width="1.5" />
<text x="754.30" y="200.20" font-family="'Liberation Serif', serif" font-size="8.1" font-weight="bold" text-anchor="middle" fill="#141414" >HFD-</text>
<text x="754.30" y="207.20" font-family="'Liberation Serif', serif" font-size="8.1" font-weight="bold" text-anchor="middle" fill="#141414" >40mgSim</text>
<text x="628.25" y="62.90" font-family="'Liberation Serif', serif" font-size="11.5" font-weight="bold" text-anchor="middle" fill="#141414" >#</text>
<text x="659.10" y="78.90" font-family="'Liberation Sans', sans-serif" font-size="15.5" font-weight="bold" text-anchor="middle" fill="#141414" >*</text>
<text x="690.45" y="89.70" font-family="'Liberation Sans', sans-serif" font-size="15.5" font-weight="bold" text-anchor="middle" fill="#141414" >**</text>
<text x="721.90" y="107.30" font-family="'Liberation Sans', sans-serif" font-size="15.5" font-weight="bold" text-anchor="middle" fill="#141414" >***</text>
<text x="753.20" y="103.00" font-family="'Liberation Sans', sans-serif" font-size="15.5" font-weight="bold" text-anchor="middle" fill="#141414" >***</text>
<line x1="65.40" y1="391.70" x2="65.40" y2="403.20" stroke="#333" stroke-width="1.3" />
<line x1="62.70" y1="391.70" x2="68.10" y2="391.70" stroke="#333" stroke-width="1.5" />
<rect x="55.25" y="403.50" width="20.30" height="27.20" fill="#ffffff" stroke="#1e1e1e" stroke-width="1.1"/>
<line x1="96.80" y1="315.50" x2="96.80" y2="333.60" stroke="#333" stroke-width="1.3" />
<line x1="94.10" y1="315.50" x2="99.50" y2="315.50" stroke="#333" stroke-width="1.5" />
<rect x="86.35" y="333.90" width="20.90" height="96.80" fill="#111812" stroke="#1e1e1e" stroke-width="1.1"/>
<line x1="128.00" y1="323.10" x2="128.00" y2="340.10" stroke="#333" stroke-width="1.3" />
<line x1="125.30" y1="323.10" x2="130.70" y2="323.10" stroke="#333" stroke-width="1.5" />
<rect x="117.55" y="340.40" width="20.90" height="90.30" fill="url(#g1)" stroke="#1e1e1e" stroke-width="1.1"/>
<line x1="159.10" y1="341.90" x2="159.10" y2="355.00" stroke="#333" stroke-width="1.3" />
<line x1="156.40" y1="341.90" x2="161.80" y2="341.90" stroke="#333" stroke-width="1.5" />
<rect x="148.65" y="355.30" width="20.90" height="75.40" fill="url(#g1)" stroke="#1e1e1e" stroke-width="1.1"/>
<line x1="190.60" y1="357.60" x2="190.60" y2="369.60" stroke="#333" stroke-width="1.3" />
<line x1="187.90" y1="357.60" x2="193.30" y2="357.60" stroke="#333" stroke-width="1.5" />
<rect x="180.25" y="369.90" width="20.70" height="60.80" fill="url(#g1)" stroke="#1e1e1e" stroke-width="1.1"/>
<line x1="222.20" y1="349.30" x2="222.20" y2="361.90" stroke="#333" stroke-width="1.3" />
<line x1="219.50" y1="349.30" x2="224.90" y2="349.30" stroke="#333" stroke-width="1.5" />
<rect x="211.65" y="362.20" width="21.10" height="68.50" fill="#dcd9d5" stroke="#1e1e1e" stroke-width="1.1"/>
<rect x="50.60" y="422.70" width="188.80" height="2.20" fill="#ffffff"/>
<line x1="49.60" y1="286.10" x2="49.60" y2="423.20" stroke="#141414" stroke-width="1.5" />
<line x1="49.60" y1="424.40" x2="49.60" y2="431.40" stroke="#141414" stroke-width="1.5" />
<line x1="44.60" y1="424.10" x2="54.60" y2="421.70" stroke="#141414" stroke-width="1.3"/>
<line x1="44.60" y1="426.50" x2="54.60" y2="424.10" stroke="#141414" stroke-width="1.3"/>
<line x1="44.60" y1="430.70" x2="238.40" y2="430.70" stroke="#141414" stroke-width="1.6" />
<line x1="44.80" y1="288.70" x2="49.60" y2="288.70" stroke="#141414" stroke-width="1.4" />
<text x="42.40" y="292.70" font-family="'Liberation Serif', serif" font-size="10.5" font-weight="bold" text-anchor="end" fill="#141414" >28</text>
<line x1="44.80" y1="333.30" x2="49.60" y2="333.30" stroke="#141414" stroke-width="1.4" />
<text x="42.40" y="337.30" font-family="'Liberation Serif', serif" font-size="10.5" font-weight="bold" text-anchor="end" fill="#141414" >21</text>
<line x1="44.80" y1="377.90" x2="49.60" y2="377.90" stroke="#141414" stroke-width="1.4" />
<text x="42.40" y="381.90" font-family="'Liberation Serif', serif" font-size="10.5" font-weight="bold" text-anchor="end" fill="#141414" >14</text>
<line x1="44.80" y1="421.50" x2="49.60" y2="421.50" stroke="#141414" stroke-width="1.4" />
<text x="42.40" y="425.50" font-family="'Liberation Serif', serif" font-size="10.5" font-weight="bold" text-anchor="end" fill="#141414" >7</text>
<text x="42.40" y="434.70" font-family="'Liberation Serif', serif" font-size="10.5" font-weight="bold" text-anchor="end" fill="#141414" >0</text>
<line x1="65.40" y1="430.70" x2="65.40" y2="435.50" stroke="#141414" stroke-width="1.5" />
<text x="65.40" y="447.50" font-family="'Liberation Serif', serif" font-size="9.6" font-weight="bold" text-anchor="middle" fill="#141414" >Control</text>
<line x1="96.80" y1="430.70" x2="96.80" y2="435.50" stroke="#141414" stroke-width="1.5" />
<text x="96.80" y="447.50" font-family="'Liberation Serif', serif" font-size="9.6" font-weight="bold" text-anchor="middle" fill="#141414" >HFD</text>
<line x1="128.00" y1="430.70" x2="128.00" y2="435.50" stroke="#141414" stroke-width="1.5" />
<text x="126.70" y="444.50" font-family="'Liberation Serif', serif" font-size="8.1" font-weight="bold" text-anchor="middle" fill="#141414" >HFD-</text>
<text x="126.70" y="451.50" font-family="'Liberation Serif', serif" font-size="8.1" font-weight="bold" text-anchor="middle" fill="#141414" >10mgFC</text>
<line x1="159.10" y1="430.70" x2="159.10" y2="435.50" stroke="#141414" stroke-width="1.5" />
<text x="158.60" y="444.50" font-family="'Liberation Serif', serif" font-size="8.1" font-weight="bold" text-anchor="middle" fill="#141414" >HFD-</text>
<text x="158.60" y="451.50" font-family="'Liberation Serif', serif" font-size="8.1" font-weight="bold" text-anchor="middle" fill="#141414" >20mgFC</text>
<line x1="190.60" y1="430.70" x2="190.60" y2="435.50" stroke="#141414" stroke-width="1.5" />
<text x="190.90" y="444.50" font-family="'Liberation Serif', serif" font-size="8.1" font-weight="bold" text-anchor="middle" fill="#141414" >HFD-</text>
<text x="190.90" y="451.50" font-family="'Liberation Serif', serif" font-size="8.1" font-weight="bold" text-anchor="middle" fill="#141414" >40mgFC</text>
<line x1="222.20" y1="430.70" x2="222.20" y2="435.50" stroke="#141414" stroke-width="1.5" />
<text x="223.30" y="444.50" font-family="'Liberation Serif', serif" font-size="8.1" font-weight="bold" text-anchor="middle" fill="#141414" >HFD-</text>
<text x="223.30" y="451.50" font-family="'Liberation Serif', serif" font-size="8.1" font-weight="bold" text-anchor="middle" fill="#141414" >40mgSim</text>
<text x="96.80" y="304.20" font-family="'Liberation Serif', serif" font-size="11.5" font-weight="bold" text-anchor="middle" fill="#141414" >#</text>
<text x="159.10" y="336.90" font-family="'Liberation Sans', sans-serif" font-size="15.5" font-weight="bold" text-anchor="middle" fill="#141414" >*</text>
<text x="190.60" y="352.60" font-family="'Liberation Sans', sans-serif" font-size="15.5" font-weight="bold" text-anchor="middle" fill="#141414" >***</text>
<text x="222.20" y="344.30" font-family="'Liberation Sans', sans-serif" font-size="15.5" font-weight="bold" text-anchor="middle" fill="#141414" >**</text>
<line x1="330.35" y1="396.90" x2="330.35" y2="400.50" stroke="#333" stroke-width="1.3" />
<line x1="327.65" y1="396.90" x2="333.05" y2="396.90" stroke="#333" stroke-width="1.5" />
<rect x="319.85" y="400.80" width="21.00" height="30.30" fill="#ffffff" stroke="#1e1e1e" stroke-width="1.1"/>
<line x1="362.00" y1="313.30" x2="362.00" y2="325.30" stroke="#333" stroke-width="1.3" />
<line x1="359.30" y1="313.30" x2="364.70" y2="313.30" stroke="#333" stroke-width="1.5" />
<rect x="351.75" y="325.60" width="20.50" height="105.50" fill="#111812" stroke="#1e1e1e" stroke-width="1.1"/>
<line x1="393.20" y1="335.80" x2="393.20" y2="345.60" stroke="#333" stroke-width="1.3" />
<line x1="390.50" y1="335.80" x2="395.90" y2="335.80" stroke="#333" stroke-width="1.5" />
<rect x="382.95" y="345.90" width="20.50" height="85.20" fill="url(#g1)" stroke="#1e1e1e" stroke-width="1.1"/>
<line x1="424.50" y1="356.00" x2="424.50" y2="364.10" stroke="#333" stroke-width="1.3" />
<line x1="421.80" y1="356.00" x2="427.20" y2="356.00" stroke="#333" stroke-width="1.5" />
<rect x="414.15" y="364.40" width="20.70" height="66.70" fill="url(#g1)" stroke="#1e1e1e" stroke-width="1.1"/>
<line x1="455.85" y1="376.10" x2="455.85" y2="381.60" stroke="#333" stroke-width="1.3" />
<line x1="453.15" y1="376.10" x2="458.55" y2="376.10" stroke="#333" stroke-width="1.5" />
<rect x="445.75" y="381.90" width="20.20" height="49.20" fill="url(#g1)" stroke="#1e1e1e" stroke-width="1.1"/>
<line x1="487.10" y1="364.50" x2="487.10" y2="370.70" stroke="#333" stroke-width="1.3" />
<line x1="484.40" y1="364.50" x2="489.80" y2="364.50" stroke="#333" stroke-width="1.5" />
<rect x="476.65" y="371.00" width="20.90" height="60.10" fill="#dcd9d5" stroke="#1e1e1e" stroke-width="1.1"/>
<line x1="314.90" y1="285.60" x2="314.90" y2="431.80" stroke="#141414" stroke-width="1.5" />
<line x1="309.90" y1="431.10" x2="504.00" y2="431.10" stroke="#141414" stroke-width="1.6" />
<line x1="310.10" y1="302.10" x2="314.90" y2="302.10" stroke="#141414" stroke-width="1.4" />
<text x="307.70" y="305.50" font-family="'Liberation Serif', serif" font-size="11" font-weight="bold" text-anchor="end" fill="#141414" >320</text>
<line x1="310.10" y1="334.40" x2="314.90" y2="334.40" stroke="#141414" stroke-width="1.4" />
<text x="307.70" y="337.80" font-family="'Liberation Serif', serif" font-size="11" font-weight="bold" text-anchor="end" fill="#141414" >240</text>
<line x1="310.10" y1="366.70" x2="314.90" y2="366.70" stroke="#141414" stroke-width="1.4" />
<text x="307.70" y="370.10" font-family="'Liberation Serif', serif" font-size="11" font-weight="bold" text-anchor="end" fill="#141414" >160</text>
<line x1="310.10" y1="398.90" x2="314.90" y2="398.90" stroke="#141414" stroke-width="1.4" />
<text x="307.70" y="402.30" font-family="'Liberation Serif', serif" font-size="11" font-weight="bold" text-anchor="end" fill="#141414" >80</text>
<text x="307.70" y="434.50" font-family="'Liberation Serif', serif" font-size="11" font-weight="bold" text-anchor="end" fill="#141414" >0</text>
<line x1="330.35" y1="431.10" x2="330.35" y2="435.90" stroke="#141414" stroke-width="1.5" />
<text x="330.35" y="448.00" font-family="'Liberation Serif', serif" font-size="9.6" font-weight="bold" text-anchor="middle" fill="#141414" >Control</text>
<line x1="362.00" y1="431.10" x2="362.00" y2="435.90" stroke="#141414" stroke-width="1.5" />
<text x="362.00" y="448.00" font-family="'Liberation Serif', serif" font-size="9.6" font-weight="bold" text-anchor="middle" fill="#141414" >HFD</text>
<line x1="393.20" y1="431.10" x2="393.20" y2="435.90" stroke="#141414" stroke-width="1.5" />
<text x="391.90" y="445.00" font-family="'Liberation Serif', serif" font-size="8.1" font-weight="bold" text-anchor="middle" fill="#141414" >HFD-</text>
<text x="391.90" y="452.00" font-family="'Liberation Serif', serif" font-size="8.1" font-weight="bold" text-anchor="middle" fill="#141414" >10mgFC</text>
<line x1="424.50" y1="431.10" x2="424.50" y2="435.90" stroke="#141414" stroke-width="1.5" />
<text x="424.00" y="445.00" font-family="'Liberation Serif', serif" font-size="8.1" font-weight="bold" text-anchor="middle" fill="#141414" >HFD-</text>
<text x="424.00" y="452.00" font-family="'Liberation Serif', serif" font-size="8.1" font-weight="bold" text-anchor="middle" fill="#141414" >20mgFC</text>
<line x1="455.85" y1="431.10" x2="455.85" y2="435.90" stroke="#141414" stroke-width="1.5" />
<text x="456.15" y="445.00" font-family="'Liberation Serif', serif" font-size="8.1" font-weight="bold" text-anchor="middle" fill="#141414" >HFD-</text>
<text x="456.15" y="452.00" font-family="'Liberation Serif', serif" font-size="8.1" font-weight="bold" text-anchor="middle" fill="#141414" >40mgFC</text>
<line x1="487.10" y1="431.10" x2="487.10" y2="435.90" stroke="#141414" stroke-width="1.5" />
<text x="488.20" y="445.00" font-family="'Liberation Serif', serif" font-size="8.1" font-weight="bold" text-anchor="middle" fill="#141414" >HFD-</text>
<text x="488.20" y="452.00" font-family="'Liberation Serif', serif" font-size="8.1" font-weight="bold" text-anchor="middle" fill="#141414" >40mgSim</text>
<text x="362.00" y="299.00" font-family="'Liberation Serif', serif" font-size="11.5" font-weight="bold" text-anchor="middle" fill="#141414" >#</text>
<text x="393.20" y="330.40" font-family="'Liberation Sans', sans-serif" font-size="15.5" font-weight="bold" text-anchor="middle" fill="#141414" >*</text>
<text x="424.50" y="351.10" font-family="'Liberation Sans', sans-serif" font-size="15.5" font-weight="bold" text-anchor="middle" fill="#141414" >***</text>
<text x="455.85" y="370.50" font-family="'Liberation Sans', sans-serif" font-size="15.5" font-weight="bold" text-anchor="middle" fill="#141414" >***</text>
<text x="487.10" y="359.60" font-family="'Liberation Sans', sans-serif" font-size="15.5" font-weight="bold" text-anchor="middle" fill="#141414" >***</text>
<line x1="597.45" y1="387.30" x2="597.45" y2="392.50" stroke="#333" stroke-width="1.3" />
<line x1="594.75" y1="387.30" x2="600.15" y2="387.30" stroke="#333" stroke-width="1.5" />
<rect x="587.25" y="392.80" width="20.40" height="37.70" fill="#ffffff" stroke="#1e1e1e" stroke-width="1.1"/>
<line x1="628.95" y1="311.30" x2="628.95" y2="322.80" stroke="#333" stroke-width="1.3" />
<line x1="626.25" y1="311.30" x2="631.65" y2="311.30" stroke="#333" stroke-width="1.5" />
<rect x="618.35" y="323.10" width="21.20" height="107.40" fill="#111812" stroke="#1e1e1e" stroke-width="1.1"/>
<line x1="660.30" y1="333.10" x2="660.30" y2="342.60" stroke="#333" stroke-width="1.3" />
<line x1="657.60" y1="333.10" x2="663.00" y2="333.10" stroke="#333" stroke-width="1.5" />
<rect x="649.95" y="342.90" width="20.70" height="87.60" fill="url(#g1)" stroke="#1e1e1e" stroke-width="1.1"/>
<line x1="691.45" y1="344.80" x2="691.45" y2="353.20" stroke="#333" stroke-width="1.3" />
<line x1="688.75" y1="344.80" x2="694.15" y2="344.80" stroke="#333" stroke-width="1.5" />
<rect x="681.15" y="353.50" width="20.60" height="77.00" fill="url(#g1)" stroke="#1e1e1e" stroke-width="1.1"/>
<line x1="723.20" y1="366.60" x2="723.20" y2="373.10" stroke="#333" stroke-width="1.3" />
<line x1="720.50" y1="366.60" x2="725.90" y2="366.60" stroke="#333" stroke-width="1.5" />
<rect x="712.95" y="373.40" width="20.50" height="57.10" fill="url(#g1)" stroke="#1e1e1e" stroke-width="1.1"/>
<line x1="754.70" y1="363.00" x2="754.70" y2="369.50" stroke="#333" stroke-width="1.3" />
<line x1="752.00" y1="363.00" x2="757.40" y2="363.00" stroke="#333" stroke-width="1.5" />
<rect x="744.15" y="369.80" width="21.10" height="60.70" fill="#dcd9d5" stroke="#1e1e1e" stroke-width="1.1"/>
<line x1="580.90" y1="286.30" x2="580.90" y2="431.20" stroke="#141414" stroke-width="1.5" />
<line x1="575.90" y1="430.50" x2="771.00" y2="430.50" stroke="#141414" stroke-width="1.6" />
<line x1="576.10" y1="286.30" x2="580.90" y2="286.30" stroke="#141414" stroke-width="1.4" />
<text x="573.70" y="289.70" font-family="'Liberation Serif', serif" font-size="10.5" font-weight="bold" text-anchor="end" fill="#141414" >12</text>
<line x1="576.10" y1="322.35" x2="580.90" y2="322.35" stroke="#141414" stroke-width="1.4" />
<text x="573.70" y="325.75" font-family="'Liberation Serif', serif" font-size="10.5" font-weight="bold" text-anchor="end" fill="#141414" >9</text>
<line x1="576.10" y1="358.40" x2="580.90" y2="358.40" stroke="#141414" stroke-width="1.4" />
<text x="573.70" y="361.80" font-family="'Liberation Serif', serif" font-size="10.5" font-weight="bold" text-anchor="end" fill="#141414" >6</text>
<line x1="576.10" y1="394.45" x2="580.90" y2="394.45" stroke="#141414" stroke-width="1.4" />
<text x="573.70" y="397.85" font-family="'Liberation Serif', serif" font-size="10.5" font-weight="bold" text-anchor="end" fill="#141414" >3</text>
<text x="573.70" y="433.90" font-family="'Liberation Serif', serif" font-size="10.5" font-weight="bold" text-anchor="end" fill="#141414" >0</text>
<line x1="597.45" y1="430.50" x2="597.45" y2="435.30" stroke="#141414" stroke-width="1.5" />
<text x="597.45" y="447.10" font-family="'Liberation Serif', serif" font-size="9.6" font-weight="bold" text-anchor="middle" fill="#141414" >Control</text>
<line x1="628.95" y1="430.50" x2="628.95" y2="435.30" stroke="#141414" stroke-width="1.5" />
<text x="628.95" y="447.10" font-family="'Liberation Serif', serif" font-size="9.6" font-weight="bold" text-anchor="middle" fill="#141414" >HFD</text>
<line x1="660.30" y1="430.50" x2="660.30" y2="435.30" stroke="#141414" stroke-width="1.5" />
<text x="659.00" y="444.10" font-family="'Liberation Serif', serif" font-size="8.1" font-weight="bold" text-anchor="middle" fill="#141414" >HFD-</text>
<text x="659.00" y="451.10" font-family="'Liberation Serif', serif" font-size="8.1" font-weight="bold" text-anchor="middle" fill="#141414" >10mgFC</text>
<line x1="691.45" y1="430.50" x2="691.45" y2="435.30" stroke="#141414" stroke-width="1.5" />
<text x="690.95" y="444.10" font-family="'Liberation Serif', serif" font-size="8.1" font-weight="bold" text-anchor="middle" fill="#141414" >HFD-</text>
<text x="690.95" y="451.10" font-family="'Liberation Serif', serif" font-size="8.1" font-weight="bold" text-anchor="middle" fill="#141414" >20mgFC</text>
<line x1="723.20" y1="430.50" x2="723.20" y2="435.30" stroke="#141414" stroke-width="1.5" />
<text x="723.50" y="444.10" font-family="'Liberation Serif', serif" font-size="8.1" font-weight="bold" text-anchor="middle" fill="#141414" >HFD-</text>
<text x="723.50" y="451.10" font-family="'Liberation Serif', serif" font-size="8.1" font-weight="bold" text-anchor="middle" fill="#141414" >40mgFC</text>
<line x1="754.70" y1="430.50" x2="754.70" y2="435.30" stroke="#141414" stroke-width="1.5" />
<text x="755.80" y="444.10" font-family="'Liberation Serif', serif" font-size="8.1" font-weight="bold" text-anchor="middle" fill="#141414" >HFD-</text>
<text x="755.80" y="451.10" font-family="'Liberation Serif', serif" font-size="8.1" font-weight="bold" text-anchor="middle" fill="#141414" >40mgSim</text>
<text x="628.95" y="300.90" font-family="'Liberation Serif', serif" font-size="11.5" font-weight="bold" text-anchor="middle" fill="#141414" >#</text>
<text x="660.30" y="327.80" font-family="'Liberation Sans', sans-serif" font-size="15.5" font-weight="bold" text-anchor="middle" fill="#141414" >*</text>
<text x="691.45" y="340.30" font-family="'Liberation Sans', sans-serif" font-size="15.5" font-weight="bold" text-anchor="middle" fill="#141414" >**</text>
<text x="723.20" y="361.80" font-family="'Liberation Sans', sans-serif" font-size="15.5" font-weight="bold" text-anchor="middle" fill="#141414" >***</text>
<text x="754.70" y="357.70" font-family="'Liberation Sans', sans-serif" font-size="15.5" font-weight="bold" text-anchor="middle" fill="#141414" >***</text>
<text transform="translate(279.60,114.20) rotate(-90)" x="0" y="0" font-family="'Liberation Serif', serif" font-size="18" font-weight="bold" text-anchor="middle" fill="#141414" textLength="131.5" lengthAdjust="spacingAndGlyphs">Liver Weight (g)</text>
<text transform="translate(525.00,118.70) rotate(-90)" x="0" y="0" font-family="'Liberation Serif', serif" font-size="18" font-weight="bold" text-anchor="middle" fill="#141414" textLength="90.1" lengthAdjust="spacingAndGlyphs">Liver/Body</text>
<text transform="translate(547.50,116.90) rotate(-90)" x="0" y="0" font-family="'Liberation Serif', serif" font-size="18" font-weight="bold" text-anchor="middle" fill="#141414" textLength="106.9" lengthAdjust="spacingAndGlyphs">Weight Ratio</text>
<text transform="translate(20.80,407.20) rotate(-90)" x="0" y="0" font-family="'Liberation Serif', serif" font-size="16.5" font-weight="bold" text-anchor="middle" fill="#141414" textLength="82.3" lengthAdjust="spacingAndGlyphs">Hepatic TC</text>
<text transform="translate(20.80,318.80) rotate(-90)" x="0" y="0" font-family="'Liberation Serif', serif" font-size="15.6" font-weight="bold" text-anchor="middle" fill="#141414" textLength="84.3" lengthAdjust="spacingAndGlyphs">(mg/g tissue)</text>
<text transform="translate(284.20,407.30) rotate(-90)" x="0" y="0" font-family="'Liberation Serif', serif" font-size="15.7" font-weight="bold" text-anchor="middle" fill="#141414" textLength="78.8" lengthAdjust="spacingAndGlyphs">Hepatic TG</text>
<text transform="translate(284.20,317.60) rotate(-90)" x="0" y="0" font-family="'Liberation Serif', serif" font-size="15.7" font-weight="bold" text-anchor="middle" fill="#141414" textLength="85.2" lengthAdjust="spacingAndGlyphs">(mg/g tissue)</text>
<text transform="translate(557.40,400.60) rotate(-90)" x="0" y="0" font-family="'Liberation Serif', serif" font-size="14.4" font-weight="bold" text-anchor="middle" fill="#141414" textLength="92.4" lengthAdjust="spacingAndGlyphs">Hepatic LDL-c</text>
<text transform="translate(557.40,311.30) rotate(-90)" x="0" y="0" font-family="'Liberation Serif', serif" font-size="14.4" font-weight="bold" text-anchor="middle" fill="#141414" textLength="78.1" lengthAdjust="spacingAndGlyphs">(mg/g tissue)</text>
</svg>
</body></html>
